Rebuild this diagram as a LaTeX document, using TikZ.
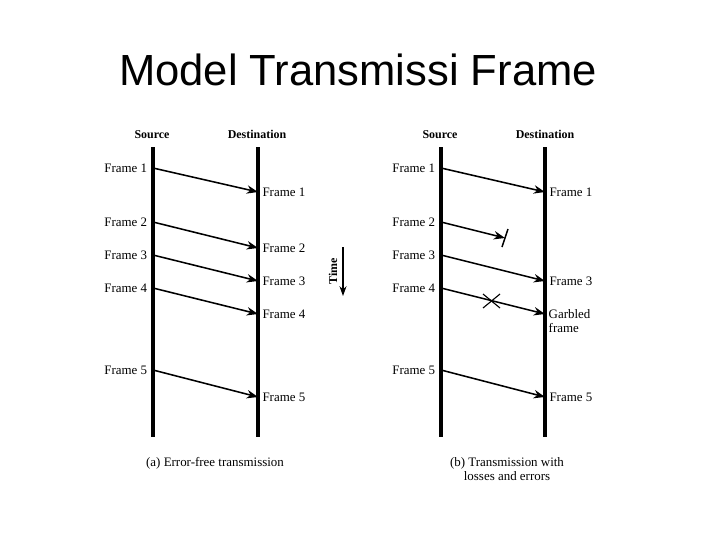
\documentclass[tikz,border=0pt]{standalone}
\usepackage{fontspec}
\setmainfont{Liberation Serif}
\newfontfamily\titlefont{Liberation Sans}
\usetikzlibrary{arrows.meta,positioning}

\begin{document}
\begin{tikzpicture}[x=0.025cm, y=-0.025cm,
    lifeline/.style={line width=2.4pt},
    msg/.style={-{Stealth[length=8pt,width=6pt]}, line width=1.1pt},
    lbl/.style={font=\fontsize{9.2}{10}\selectfont, inner sep=1pt},
    hdr/.style={font=\bfseries\fontsize{8.5}{10}\selectfont, inner sep=1pt, anchor=base},
    capt/.style={font=\fontsize{9.2}{10.5}\selectfont, align=center, inner sep=1pt}]
    \useasboundingbox (0,0) rectangle (720,540);
    \node[font=\titlefont\fontsize{31}{36}\selectfont] (title) at (358,70) {Model Transmissi Frame};

    % (a) error-free
    \coordinate (asrctop) at (153,147);
    \coordinate (asrcbot) at (153,437);
    \coordinate (adsttop) at (258,147);
    \coordinate (adstbot) at (258,437);
    \draw[lifeline] (asrctop) -- (asrcbot);
    \draw[lifeline] (adsttop) -- (adstbot);
    \node[hdr] (asrc) at (152,138) {Source};
    \node[hdr] (adst) at (257,138) {Destination};

    \coordinate (a1s) at (153,168); \coordinate (a1d) at (258,192);
    \coordinate (a2s) at (153,222); \coordinate (a2d) at (258,248);
    \coordinate (a3s) at (153,255); \coordinate (a3d) at (258,281);
    \coordinate (a4s) at (153,288); \coordinate (a4d) at (258,314);
    \coordinate (a5s) at (153,370); \coordinate (a5d) at (258,397);

    \node[lbl, left=3pt of a1s] (a1l) {Frame 1};
    \node[lbl, left=3pt of a2s] (a2l) {Frame 2};
    \node[lbl, left=3pt of a3s] (a3l) {Frame 3};
    \node[lbl, left=3pt of a4s] (a4l) {Frame 4};
    \node[lbl, left=3pt of a5s] (a5l) {Frame 5};
    \node[lbl, right=2pt of a1d] (a1r) {Frame 1};
    \node[lbl, right=2pt of a2d] (a2r) {Frame 2};
    \node[lbl, right=2pt of a3d] (a3r) {Frame 3};
    \node[lbl, right=2pt of a4d] (a4r) {Frame 4};
    \node[lbl, right=2pt of a5d] (a5r) {Frame 5};

    \draw[msg] (a1s) -- (a1d);
    \draw[msg] (a2s) -- (a2d);
    \draw[msg] (a3s) -- (a3d);
    \draw[msg] (a4s) -- (a4d);
    \draw[msg] (a5s) -- (a5d);

    \node[capt] (acap) at (215,463) {(a) Error-free transmission};

    % time axis
    \coordinate (ttop) at (343,247);
    \coordinate (tbot) at (343,296);
    \draw[-{Stealth[length=7pt,width=5pt]}, line width=0.8pt] (ttop) -- (tbot);
    \node[hdr, rotate=90, anchor=center] (tlbl) at (333,271) {Time};

    % (b) losses and errors
    \coordinate (bsrctop) at (441,147);
    \coordinate (bsrcbot) at (441,437);
    \coordinate (bdsttop) at (545,147);
    \coordinate (bdstbot) at (545,437);
    \draw[lifeline] (bsrctop) -- (bsrcbot);
    \draw[lifeline] (bdsttop) -- (bdstbot);
    \node[hdr] (bsrc) at (440,138) {Source};
    \node[hdr] (bdst) at (545,138) {Destination};

    \coordinate (b1s) at (441,168); \coordinate (b1d) at (545,192);
    \coordinate (b2s) at (441,222); \coordinate (b2e) at (505,238);
    \coordinate (b3s) at (441,255); \coordinate (b3d) at (545,281);
    \coordinate (b4s) at (441,288); \coordinate (b4d) at (545,314);
    \coordinate (b5s) at (441,370); \coordinate (b5d) at (545,397);

    \node[lbl, left=3pt of b1s] (b1l) {Frame 1};
    \node[lbl, left=3pt of b2s] (b2l) {Frame 2};
    \node[lbl, left=3pt of b3s] (b3l) {Frame 3};
    \node[lbl, left=3pt of b4s] (b4l) {Frame 4};
    \node[lbl, left=3pt of b5s] (b5l) {Frame 5};
    \node[lbl, right=2pt of b1d] (b1r) {Frame 1};
    \node[lbl, right=2pt of b3d] (b3r) {Frame 3};
    \node[lbl, align=left, anchor=north west] (b4r) at (547,308) {Garbled\\frame};
    \node[lbl, right=2pt of b5d] (b5r) {Frame 5};

    \draw[msg] (b1s) -- (b1d);
    \draw[msg] (b2s) -- (b2e);
    \draw[line width=1.1pt] (508,229) -- (502,247);
    \draw[msg] (b3s) -- (b3d);
    \draw[msg] (b4s) -- (b4d);
    \draw[line width=0.8pt] (483,294) -- (500,308);
    \draw[line width=0.8pt] (483,308) -- (500,294);
    \draw[msg] (b5s) -- (b5d);

    \node[capt] (bcap) at (507,469) {(b) Transmission with\\losses and errors};
\end{tikzpicture}
\end{document}
